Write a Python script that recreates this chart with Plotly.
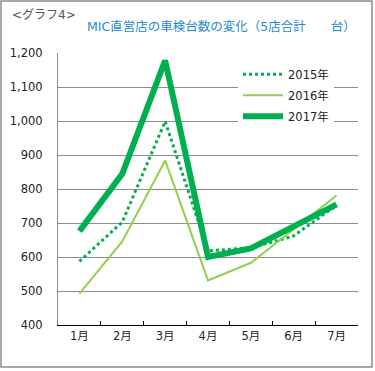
import plotly.graph_objects as go

months = ["1月", "2月", "3月", "4月", "5月", "6月", "7月"]
y2015 = [587, 703, 999, 618, 627, 662, 752]
y2016 = [492, 646, 884, 531, 583, 683, 781]
y2017 = [676, 845, 1178, 600, 625, 688, 755]
yticks = [400, 500, 600, 700, 800, 900, 1000, 1100, 1200]
yticklabels = [f"{v:,}" for v in yticks]

FONT = "DejaVu Sans, Noto Sans CJK JP, sans-serif"

fig = go.Figure()
fig.add_trace(go.Scatter(x=months, y=y2015, name="2015年", mode="lines",
                         line=dict(color="#00B050", width=3, dash="dot"),
                         legendgroup="a"))
fig.add_trace(go.Scatter(x=months, y=y2016, name="2016年", mode="lines",
                         line=dict(color="#92D050", width=2),
                         legendgroup="b"))
fig.add_trace(go.Scatter(x=months, y=y2017, name="2017年", mode="lines",
                         line=dict(color="#00B050", width=6),
                         legendgroup="c"))

fig.update_layout(
    width=375, height=371,
    margin=dict(l=58, r=17, t=53, b=46, autoexpand=False),
    paper_bgcolor="white", plot_bgcolor="white",
    font=dict(family=FONT, size=11.5, color="#333333"),
    showlegend=True,
    legend=dict(x=0.6, y=0.975, xanchor="left", yanchor="top",
                bgcolor="white", font=dict(size=11.5, color="#222222"),
                tracegroupgap=2, itemwidth=40),
    xaxis=dict(type="category", showgrid=False, showline=True,
               linecolor="black", linewidth=1.2, ticks="inside",
               tickson="boundaries", ticklen=4, tickcolor="black",
               range=[-0.5, 6.5], fixedrange=True,
               tickfont=dict(size=11.5, color="#222222")),
    yaxis=dict(range=[400, 1200], tickvals=yticks, ticktext=yticklabels,
               showgrid=True, gridcolor="#8c8c8c", gridwidth=1,
               showline=True, linecolor="#8c8c8c", linewidth=1,
               zeroline=False, ticks="", ticklabelstandoff=12,
               tickfont=dict(size=11.5, color="#222222")),
    shapes=[dict(type="rect", xref="paper", yref="paper",
                 x0=-57 / 300, x1=314 / 300, y0=-42 / 272, y1=324 / 272,
                 line=dict(color="#8c8c8c", width=1.5), layer="below")],
    annotations=[
        dict(text="<グラフ4>", xref="paper", yref="paper",
             x=-48 / 300, y=310 / 272, xanchor="left", yanchor="middle",
             showarrow=False, font=dict(size=12, color="#555555")),
        dict(text="MIC直営店の車検台数の変化（5店合計　　台）", xref="paper", yref="paper",
             x=27 / 300, y=298 / 272, xanchor="left", yanchor="middle",
             showarrow=False, font=dict(size=12.5, color="#1F8AD2")),
    ],
)

fig.write_html("out.html", config={"displayModeBar": False},
               post_script="document.body.style.margin='0';document.body.style.padding='0';")
